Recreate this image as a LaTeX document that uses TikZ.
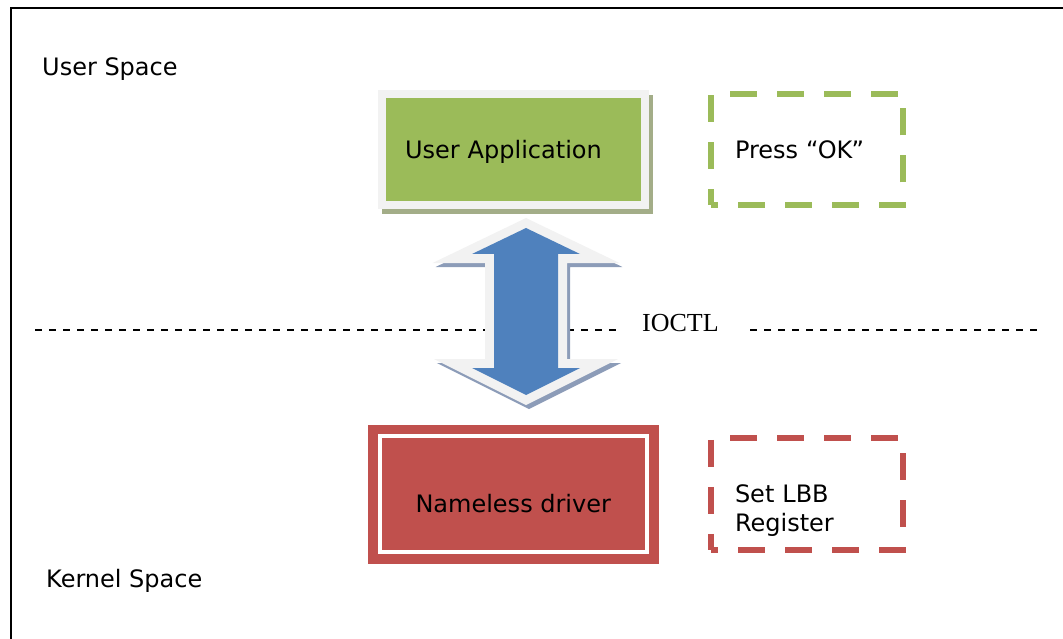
\documentclass[tikz,border=0pt]{standalone}
\usepackage{fontspec}
\setmainfont{DejaVu Sans}
\newfontfamily\ioctlfont{Liberation Serif}
\usepackage{xcolor}
\usetikzlibrary{positioning}
\definecolor{appgreen}{HTML}{9BBB59}
\definecolor{drvred}{HTML}{C0504D}
\definecolor{ioblue}{HTML}{4F81BD}
\definecolor{boxwhite}{HTML}{F2F2F2}
\definecolor{greenshade}{HTML}{A3AD88}
\definecolor{blueshade}{HTML}{8C9CB8}
\tikzset{
  bigfont/.style={font=\fontsize{24}{29}\selectfont},
  spacelabel/.style={bigfont, anchor=base west, inner sep=0pt},
  appbox/.style={rectangle, fill=appgreen, draw=boxwhite, line width=8pt, outer sep=0pt,
                 minimum width=263.5pt, minimum height=111.5pt, text width=216.5pt,
                 inner xsep=23.5pt, align=left, text height=18pt, text depth=0pt, bigfont,
                 preaction={draw=greenshade, fill=greenshade, line width=8pt,
                            transform canvas={shift={(4pt,-5pt)}}}},
  drvbox/.style={rectangle, fill=drvred, draw=white, line width=4pt, outer sep=0pt,
                 minimum width=267.5pt, minimum height=116pt, text height=36pt, text depth=0pt,
                 bigfont, preaction={draw=drvred, line width=23pt}},
  notebox/.style={rectangle, draw=#1, line width=6pt, dash pattern=on 27pt off 20pt,
                  dash phase=20pt, outer sep=0pt, minimum width=192pt, minimum height=111.5pt,
                  text width=144pt, inner xsep=24pt, align=left, bigfont},
  ioarrow/.style={fill=ioblue,
                  preaction={draw=blueshade, fill=blueshade, line width=18pt,
                             transform canvas={shift={(3pt,-4pt)}}},
                  preaction={draw=boxwhite, line width=18pt}},
  ioctllabel/.style={font=\ioctlfont\fontsize{26}{30}\selectfont, anchor=base west, inner sep=0pt},
  sepline/.style={draw=black, line width=2pt, dash pattern=on 7pt off 7pt},
  frame/.style={draw=black, line width=2pt},
}
\begin{document}
\begin{tikzpicture}[x=1pt, y=-1pt]
  \useasboundingbox (0,0) rectangle (1063,639);
  \draw[frame] (11,650) -- (11,8) -- (1070,8);

  \node[spacelabel] (user)   at (42,76)    {User Space};
  \node[spacelabel] (kernel) at (46,587.3) {Kernel Space};

  \coordinate (sepW) at (35,330);
  \coordinate (sepA) at (623,330);
  \coordinate (sepB) at (750,330);
  \coordinate (sepE) at (1037,330);
  \draw[sepline] (sepW) -- (sepA);
  \draw[sepline] (sepB) -- (sepE);
  \node[ioctllabel] (ioctl) at (642,331.7) {IOCTL};

  \node[appbox] (app) at (513.25,149.75) {User Application};
  \node[notebox=appgreen, right=66pt of app] (ok) {Press “OK”};
  \node[drvbox, below=230.5pt of app] (drv) {Nameless driver};
  \node[notebox=drvred, right=64pt of drv, text height=16.5pt, text depth=0pt] (lbb) {Set LBB\\Register};

  \path[ioarrow] (526,228) -- (580,254) -- (558,254) -- (558,368) -- (580,368) -- (526,395)
    -- (472,368) -- (494,368) -- (494,254) -- (472,254) -- cycle;
\end{tikzpicture}
\end{document}
